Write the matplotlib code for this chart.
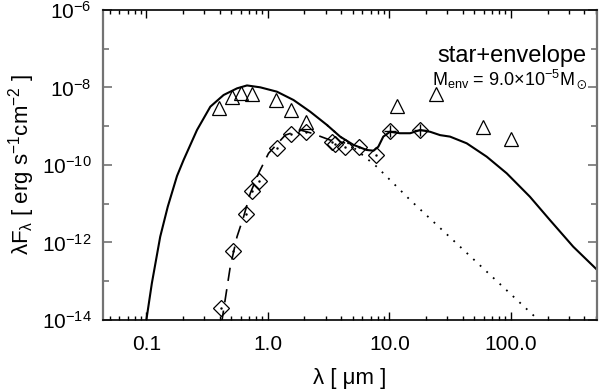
import matplotlib
matplotlib.use("Agg")
from matplotlib import pyplot as plt
from matplotlib import ticker

plt.rcParams['font.family'] = ['Liberation Sans', 'DejaVu Sans']
plt.rcParams['mathtext.default'] = 'regular'

# model SED (star + envelope), solid line
wave_model = [0.1, 0.111, 0.130, 0.150, 0.1787, 0.2025, 0.261, 0.336, 0.432, 0.557,
              0.673, 0.865, 1.186, 1.625, 2.23, 3.06, 3.93, 5.06, 6.5, 7.4,
              8.1, 8.9, 10.1, 12.2, 14.8, 17.9, 21.6, 26.1, 31.5, 43.2,
              63.1, 92.2, 118.6, 143, 209, 325, 506]
flux_model = [1.0e-14, 8.9e-14, 1.41e-12, 8.4e-12, 5.2e-11, 1.35e-10, 8.0e-10, 3.2e-9, 6.4e-9, 9.5e-9,
              1.13e-8, 1.01e-8, 7.8e-9, 4.75e-9, 2.37e-9, 1.08e-9, 5.4e-10, 3.3e-10, 2.44e-10, 2.34e-10,
              2.97e-10, 5.4e-10, 7.2e-10, 6.6e-10, 6.6e-10, 8.0e-10, 7.2e-10, 5.9e-10, 5.4e-10, 3.63e-10,
              1.64e-10, 6.1e-11, 2.75e-11, 1.52e-11, 3.8e-12, 7.8e-13, 2.03e-13]

# bare photosphere, dotted
wave_phot = [3.06, 3.93, 5.06, 7.87, 14.8, 151.7, 190]
flux_phot = [1.08e-9, 5.4e-10, 2.83e-10, 9.0e-11, 1.25e-11, 1.35e-14, 7e-15]

# reddened model, dashed
wave_red = [0.415, 0.490, 0.557, 0.631, 0.716, 0.838, 1.012, 1.389, 1.844, 2.30, 3.25, 4.32]
flux_red = [8e-15, 2.37e-13, 1.41e-12, 4.6e-12, 1.86e-11, 6.1e-11, 2.0e-10, 5.9e-10, 8.0e-10, 6.6e-10, 4.4e-10, 3.7e-10]

# photometry
wave_tri = [0.398, 0.51, 0.596, 0.74, 1.17, 1.56, 2.05, 11.6, 24.3, 58.9, 99.4]
flux_tri = [2.96e-9, 5.6e-9, 7.3e-9, 6.8e-9, 4.76e-9, 2.6e-9, 1.31e-9, 3.3e-9, 6.7e-9, 9.7e-10, 4.6e-10]

wave_dia = [0.4135, 0.512, 0.660, 0.739, 0.848, 1.186, 1.546, 2.066, 3.36, 3.58,
            4.32, 5.67, 7.77, 10.2, 17.97]
flux_dia = [2.07e-14, 6.0e-13, 5.3e-12, 2.13e-11, 3.9e-11, 2.7e-10, 6.3e-10, 7.2e-10, 4.0e-10, 3.48e-10,
            2.97e-10, 2.97e-10, 1.85e-10, 7.4e-10, 8.0e-10]

xtick_vals = [0.1, 1.0, 10.0, 100.0]
xtick_labels = ["0.1", "1.0", "10.0", "100.0"]
ytick_vals = [1e-14, 1e-12, 1e-10, 1e-8, 1e-6]
ytick_labels = ["10$^{-14}$", "10$^{-12}$", "10$^{-10}$", "10$^{-8}$", "10$^{-6}$"]

fig = plt.figure(figsize=(6, 3.89), dpi=100)
ax = fig.add_axes([0.1717, 0.1774, 0.8233, 0.7969])

ax.plot(wave_model, flux_model, color='black', lw=1.5)
ax.plot(wave_phot, flux_phot, color='black', lw=1.3, linestyle=(0, (1, 4)))
ax.plot(wave_red, flux_red, color='black', lw=1.2, linestyle=(0, (8, 5)))

ax.plot(wave_tri, flux_tri, '^', ms=9.5, mfc='none', mec='black', mew=0.9)
ax.plot(wave_dia, flux_dia, 'D', ms=8.5, mfc='none', mec='black', mew=0.9)
ax.plot(wave_dia[:13], flux_dia[:13], '.', ms=1.5, color='black')
ax.plot(wave_dia[13:], flux_dia[13:], '+', ms=8, color='black', mew=1)

ax.set_xscale('log')
ax.set_yscale('log')
ax.set_xlim(0.044, 510)
ax.set_ylim(1e-14, 1e-6)

ax.set_xticks(xtick_vals)
ax.set_xticklabels(xtick_labels)
ax.xaxis.set_minor_locator(ticker.LogLocator(base=10, subs=range(2, 10), numticks=20))
ax.xaxis.set_minor_formatter(ticker.NullFormatter())

ax.set_yticks(ytick_vals)
ax.set_yticklabels(ytick_labels)
ax.yaxis.set_minor_locator(ticker.FixedLocator([1e-13, 1e-11, 1e-9, 1e-7]))
ax.yaxis.set_minor_formatter(ticker.NullFormatter())

ax.tick_params(which='both', direction='in', top=True, right=True, labelsize=15)
ax.tick_params(axis='x', which='major', length=5.5, width=1, pad=11)
ax.tick_params(axis='x', which='minor', length=3, width=1)
ax.tick_params(axis='y', which='major', length=6.5, width=1.2, color='0.45', pad=8)
ax.tick_params(axis='y', which='minor', length=4.5, width=1.2, color='0.45')

for s in ['left', 'right']:
    ax.spines[s].set_color('0.45')
    ax.spines[s].set_linewidth(1.6)
for s in ['top', 'bottom']:
    ax.spines[s].set_linewidth(1.2)

ax.set_xlabel("λ [ μm ]", fontsize=16, labelpad=10)
ax.set_ylabel("λF$_λ$ [ erg s$^{-1}$cm$^{-2}$ ]", fontsize=16, labelpad=4)

ax.text(0.978, 0.833, "star+envelope", transform=ax.transAxes, ha='right', va='baseline', fontsize=17)
ax.text(0.666, 0.758, r"M$_{env}$ = 9.0$\times$10$^{-5}$M$_\odot$", transform=ax.transAxes,
        ha='left', va='baseline', fontsize=13)

plt.savefig('out.png', dpi=100)
